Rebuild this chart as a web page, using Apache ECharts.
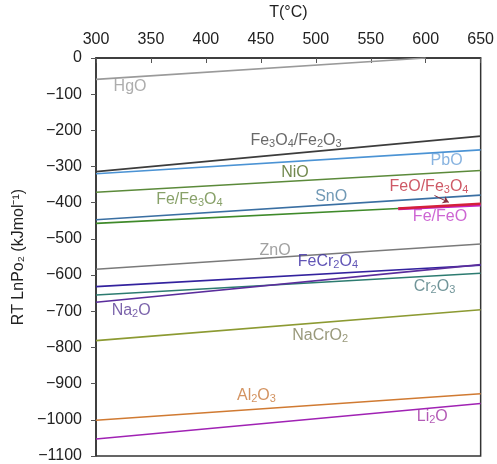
<!DOCTYPE html>
<html>
<head>
<meta charset="utf-8">
<script src="https://cdn.jsdelivr.net/npm/echarts@6/dist/echarts.min.js"></script>
<style>html,body{margin:0;padding:0;background:#fff}#c{width:497px;height:464px}</style>
</head>
<body>
<div id="c"></div>
<script>
// Data: each line given as [T, value] end points
const xTicks = [300, 350, 400, 450, 500, 550, 600, 650];
const yTicks = [0, -100, -200, -300, -400, -500, -600, -700, -800, -900, -1000, -1100];

const HgO        = [[300, -59], [600, 0]];
const Fe3O4Fe2O3 = [[300, -314], [650, -216]];
const PbO        = [[300, -320], [650, -254]];
const NiO        = [[300, -371], [650, -311]];
const SnO        = [[300, -447], [650, -379]];
const FeFe3O4    = [[300, -457], [575, -416]];
const FeOFe3O4   = [[575, -416], [650, -403]];
const FeFeO      = [[575, -417], [650, -407]];
const ZnO        = [[300, -584], [650, -514]];
const FeCr2O4    = [[300, -632], [650, -573]];
const Cr2O3      = [[300, -655], [650, -595]];
const Na2O       = [[300, -675], [650, -571]];
const NaCrO2     = [[300, -781], [650, -696]];
const Al2O3      = [[300, -1001], [650, -928]];
const Li2O       = [[300, -1053], [650, -955]];

// label text with subscripts marked as _n
const names = ['HgO','Fe_3O_4/Fe_2O_3','PbO','NiO','SnO','Fe/Fe_3O_4','FeO/Fe_3O_4','Fe/FeO','ZnO','FeCr_2O_4','Cr_2O_3','Na_2O','NaCrO_2','Al_2O_3','Li_2O'];
const seriesData = [HgO, Fe3O4Fe2O3, PbO, NiO, SnO, FeFe3O4, FeOFe3O4, FeFeO, ZnO, FeCr2O4, Cr2O3, Na2O, NaCrO2, Al2O3, Li2O];
// label anchor points (annotation placement)
const labelAt = [[331,-79],[482,-227],[619,-284],[481,-317],[514,-382],[385,-391],[603,-355],[613,-437],[463,-533],[511,-563],[608,-631],[332,-697],[504,-768],[446,-934],[606,-992]];

const lineColors  = ['#9a9a9a','#3c3c3c','#4b93d4','#5b8a3a','#3a6fa2','#3f8a2a','#d4203a','#c423c4','#7a7a7a','#33229e','#2c7b70','#5a2d9c','#8c9a32','#d07a32','#a022b4'];
const labelColors = ['#999999','#444444','#6aa0d8','#4d6a22','#4d80a2','#6a8a44','#c23040','#c040c8','#8a8a8a','#3a2aa4','#4d7a80','#5a3c96','#80805a','#c8783a','#a032a4'];

function rich(name){
  return name.split(/(_\d)/).filter(s=>s).map(s => s[0]==='_' ? '{s|'+s.slice(1)+'}' : '{n|'+s+'}').join('');
}

const series = seriesData.map((d,i)=>({
  type:'line', data:d, symbol:'none', silent:true, clip:true,
  lineStyle:{color:lineColors[i], width:(i===6||i===7)?2.6:1.6},
  z: (i===6)?4:3
}));
series[6].markLine = {
  silent:true, symbol:['none','arrow'], symbolSize:6,
  lineStyle:{color:'#8a3040', width:1, type:'solid'}, label:{show:false},
  data:[[{coord:[608,-380]},{coord:[621,-399]}]]
};
series.push({
  type:'scatter', symbolSize:0, silent:true, z:10,
  data: labelAt.map((p,i)=>({
    value:p,
    label:{show:true, position:'inside', formatter: rich(names[i]),
      rich:{
        n:{fontSize:16, lineHeight:18, color:labelColors[i], fontFamily:'Liberation Sans'},
        s:{fontSize:11, lineHeight:8, verticalAlign:'bottom', color:labelColors[i], fontFamily:'Liberation Sans'}
      }}
  }))
});

const fmt = v => String(v).replace('-', '\u2212');
const chart = echarts.init(document.getElementById('c'), null, {renderer:'canvas'});
chart.setOption({
  animation:false,
  backgroundColor:'#fff',
  textStyle:{fontFamily:'Liberation Sans'},
  grid:{left:96, right:13, top:57, bottom:4, show:true, borderColor:'#333', borderWidth:1.5, backgroundColor:'transparent'},
  xAxis:{
    type:'value', position:'top', min:xTicks[0], max:xTicks[xTicks.length-1], interval:50,
    name:'T(°C)', nameLocation:'middle', nameGap:37,
    nameTextStyle:{fontSize:16, color:'#222'},
    axisLine:{show:true, onZero:false, lineStyle:{color:'#333', width:1.5}},
    axisTick:{show:true, inside:true, length:5, lineStyle:{color:'#555'}},
    axisLabel:{fontSize:16, color:'#222', margin:10},
    splitLine:{show:false}
  },
  yAxis:{
    type:'value', min:yTicks[yTicks.length-1], max:yTicks[0], interval:100,
    name:'RT LnPo\u2082 (kJmol\u207B\u00B9)', nameLocation:'middle', nameGap:66, nameRotate:90,
    nameTextStyle:{fontSize:16, color:'#222'},
    axisLine:{show:true, onZero:false, lineStyle:{color:'#333', width:1.5}},
    axisTick:{show:true, length:5, lineStyle:{color:'#555'}},
    axisLabel:{fontSize:16, color:'#222', margin:14, formatter:fmt},
    splitLine:{show:false}
  },
  series
});
</script>
</body>
</html>
